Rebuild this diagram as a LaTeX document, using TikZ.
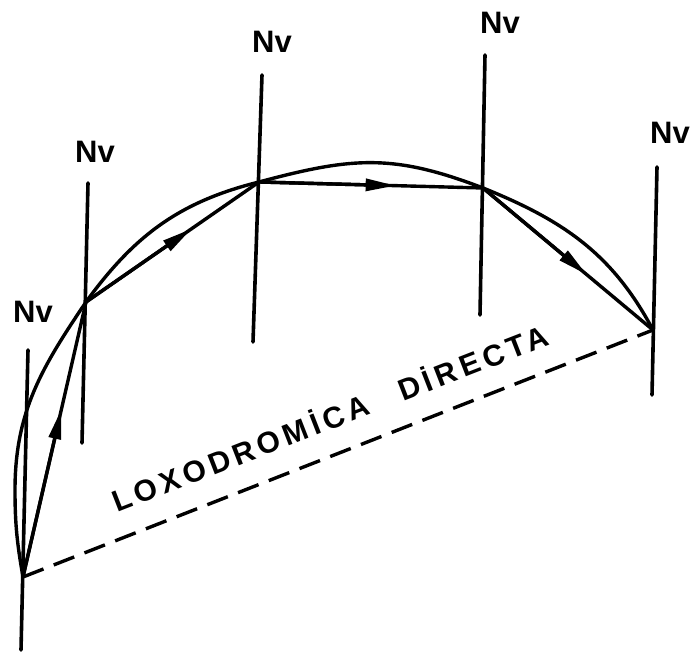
\documentclass[tikz,border=0pt]{standalone}
\usepackage{fontspec}
\setsansfont{Liberation Sans}
\newfontfamily\loxofont[LetterSpace=15]{Liberation Sans}
\usetikzlibrary{arrows.meta,calc}
\tikzset{
  mline/.style={draw=black, line width=3.6pt, line cap=round},
  gcarc/.style={draw=black, line width=3.4pt},
  legedge/.style={draw=black, line width=3.4pt},
  legtip/.style={draw=black, line width=3.4pt, -{Triangle[length=30pt,width=12pt]}},
  rhumb/.style={draw=black, line width=3.4pt, dash pattern=on 22pt off 11pt},
  nvlabel/.style={font=\sffamily\bfseries\fontsize{31}{31}\selectfont, inner sep=0pt},
  rhumblabel/.style={font=\loxofont\bfseries\fontsize{30}{30}\selectfont, inner sep=0pt},
}
\begin{document}
\begin{tikzpicture}[x=1pt,y=1pt]
  \useasboundingbox (0,0) rectangle (691,655);
  \coordinate (A) at (23,78);
  \coordinate (Aw) at (15,165);
  \coordinate (B) at (86,353);
  \coordinate (C) at (259,473);
  \coordinate (D) at (483,467);
  \coordinate (E) at (653,325);
  \foreach \n/\tx/\ty/\bx/\by/\lx/\ly in {a/28/305/21/5/33/343,
      b/88/472/82/212/95/503, c/262/580/253/313/272/613,
      d/485/600/480/340/500/632, e/657/488/652/260/670/522} {
    \coordinate (top\n) at (\tx,\ty);
    \coordinate (bot\n) at (\bx,\by);
    \draw[mline] (top\n) -- (bot\n);
    \node[nvlabel] (nv\n) at (\lx,\ly) {Nv};
  }
  \draw[gcarc] (A) to[out=100,in=270] (Aw) to[out=90,in=236] (B)
    to[out=54,in=194] (C) to[out=15,in=159,looseness=1.1] (D)
    to[out=-22,in=118] (E);
  \foreach \p/\q in {A/B,B/C,C/D,D/E} {
    \draw[legedge] (\p) -- (\q);
    \draw[legtip] (\p) -- ($(\p)!0.61!(\q)$);
  }
  \draw[rhumb] (A) -- (E);
  \node[rhumblabel, anchor=base west, rotate=21.25] (lox) at (117,142)
    {LOXODROMİCA\hspace{21pt} DİRECTA};
\end{tikzpicture}
\end{document}
